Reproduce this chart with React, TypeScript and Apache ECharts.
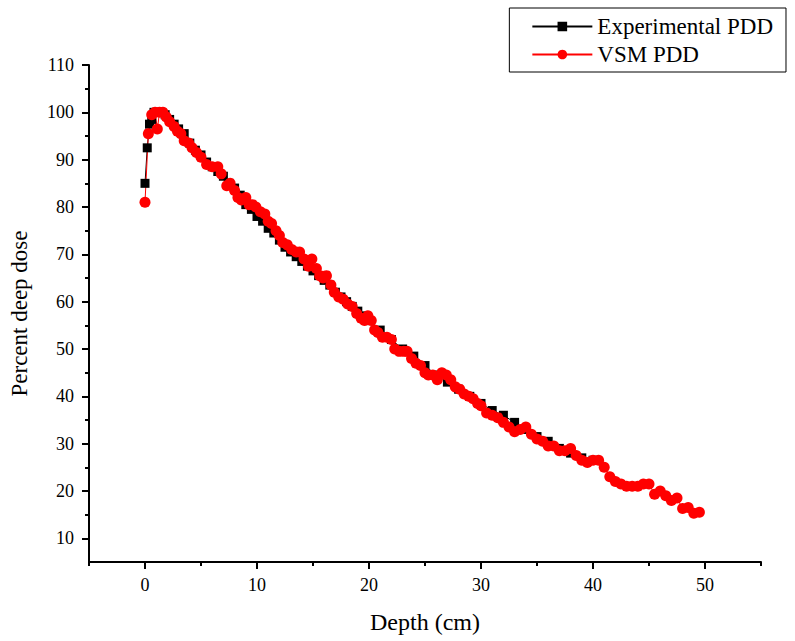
import React, { useEffect, useRef } from "react";
import * as echarts from "echarts";

const expDepth = [0, 0.2, 0.4, 0.6, 0.8, 1.0, 1.4, 1.8, 2.2, 2.6, 3.0, 3.5, 4.0, 4.5, 5.0, 5.5, 6.0, 6.5, 7.0, 7.5, 8.0, 8.5, 9.0, 9.5, 10.0, 10.5, 11.0, 11.5, 12.0, 12.5, 13.0, 13.5, 14.0, 14.5, 15.0, 15.5, 16.0, 16.5, 17.0, 17.5, 18.0, 18.5, 19.0, 19.5, 20.0, 21.0, 22.0, 23.0, 24.0, 25.0, 26.0, 27.0, 28.0, 29.0, 30.0, 31.0, 32.0, 33.0, 34.0, 35.0, 36.0, 37.0, 38.0, 39.0, 40.0];
const expDose = [85, 92.5, 97.5, 98.5, 100, 100, 100, 99.5, 98.5, 97.5, 96.5, 95.5, 93.5, 92, 91, 89.5, 88.5, 87.5, 86.5, 85, 84, 82.5, 80.5, 79.5, 78, 77, 75.5, 74.5, 73, 71.5, 70.5, 69.5, 68.5, 67.5, 66.5, 65.5, 64.5, 63.5, 62, 61, 60, 59, 58, 57, 56, 54, 52, 50, 48.5, 46.5, 44.5, 43, 41.5, 40, 38.5, 37, 36, 34.5, 33, 31.5, 30.5, 29, 28, 27, 26.5];

const vsmDepth = [0, 0.3, 0.6, 0.9, 1.1, 1.3, 1.6, 1.9, 2.2, 2.6, 2.9, 3.2, 3.5, 3.9, 4.2, 4.6, 5.0, 5.5, 6.0, 6.5, 6.8, 7.3, 7.6, 8.0, 8.3, 8.6, 9.0, 9.3, 9.6, 9.9, 10.3, 10.7, 11.0, 11.3, 11.7, 12.0, 12.3, 12.7, 13.1, 13.5, 13.8, 14.2, 14.6, 14.9, 15.3, 15.6, 15.9, 16.2, 16.6, 16.9, 17.3, 17.7, 18.1, 18.5, 18.9, 19.3, 19.6, 19.9, 20.2, 20.5, 20.8, 21.2, 21.6, 22.0, 22.3, 22.7, 23.1, 23.4, 23.8, 24.2, 24.6, 25.0, 25.3, 25.7, 26.1, 26.5, 26.9, 27.3, 27.7, 28.1, 28.5, 28.9, 29.3, 29.7, 30.0, 30.5, 31.0, 31.5, 32.0, 32.5, 33.0, 33.5, 34.0, 34.5, 35.0, 35.5, 36.0, 36.5, 37.0, 37.5, 38.0, 38.5, 39.0, 39.5, 40.0, 40.5, 41.0, 41.5, 42.0, 42.5, 43.0, 43.5, 44.0, 44.5, 45.0, 45.5, 46.0, 46.5, 47.0, 47.5, 48.0, 48.5, 49.0, 49.5];
const vsmDose = [81, 95.5, 99.5, 100, 96.5, 100, 100, 99, 98, 97, 96, 95.5, 94, 93.5, 92.5, 91.5, 90.5, 89, 88.5, 88.5, 87, 84.5, 85, 83.5, 82, 81.5, 82, 80.5, 80.5, 80, 79, 78.5, 77, 76.5, 75, 74, 72.5, 72, 71, 70.5, 70.5, 69, 67.5, 69, 67, 65.5, 65, 65.5, 63.5, 62, 61, 60.5, 59.5, 59, 57.5, 56.5, 56, 57, 56, 54, 53.5, 52.5, 52.5, 52, 50, 49.5, 49.5, 49.5, 48, 47, 46.5, 45, 44.5, 44.5, 43.5, 45, 44.5, 43.5, 42, 41.5, 40.5, 40, 39.5, 38.5, 38, 36.5, 36, 35.5, 34.5, 33.5, 32.5, 33, 33.5, 32, 31, 30.5, 29.5, 29.5, 28.5, 28.5, 29, 27.5, 26.5, 26, 26.5, 26.5, 25, 23, 22, 21.5, 21, 21, 21, 21.5, 21.5, 19.3, 20, 19, 18, 18.5, 16.3, 16.5, 15.3, 15.5];

const xMajor = [0, 10, 20, 30, 40, 50];
const xMinor = [-5, 5, 15, 25, 35, 45, 55];
const yMajor = [10, 20, 30, 40, 50, 60, 70, 80, 90, 100, 110];
const yMinor = [15, 25, 35, 45, 55, 65, 75, 85, 95, 105];

const FONT = "Liberation Serif";

export default function App() {
  const ref = useRef<HTMLDivElement>(null);
  useEffect(() => {
    if (!ref.current) return;
    const chart = echarts.init(ref.current, null, { renderer: "svg" });
    const expData = expDepth.map((d, i) => [d, expDose[i]]);
    const vsmData = vsmDepth.map((d, i) => [d, vsmDose[i]]);
    const axisBase = {
      type: "value" as const,
      splitLine: { show: false },
    };
    chart.setOption({
      animation: false,
      backgroundColor: "#fff",
      textStyle: { fontFamily: FONT },
      grid: { left: 89, right: 34, top: 65, bottom: 79, outerBoundsMode: "none" },
      legend: {
        orient: "vertical",
        right: 9,
        top: 8,
        borderColor: "#000",
        borderWidth: 1,
        padding: [7, 13, 6, 22],
        itemWidth: 60,
        itemHeight: 12,
        itemGap: 5,
        textStyle: { fontFamily: FONT, fontSize: 23, color: "#000" },
        data: ["Experimental PDD", "VSM PDD"],
      },
      xAxis: [
        {
          ...axisBase,
          min: -5,
          max: 55,
          interval: 5,
          name: "Depth (cm)",
          nameLocation: "middle",
          nameGap: 48,
          nameTextStyle: { fontFamily: FONT, fontSize: 24, color: "#000" },
          axisLine: { show: true, onZero: false, lineStyle: { color: "#000", width: 2 } },
          axisTick: { show: true, customValues: xMajor, length: 7, lineStyle: { color: "#000", width: 2 } },
          axisLabel: { customValues: xMajor, fontFamily: FONT, fontSize: 18, color: "#000", margin: 14 },
        },
        {
          ...axisBase,
          min: -5,
          max: 55,
          interval: 5,
          position: "bottom",
          axisLine: { show: false, onZero: false },
          axisTick: { show: true, customValues: xMinor, length: 4, lineStyle: { color: "#000", width: 2 } },
          axisLabel: { show: false },
        },
      ],
      yAxis: [
        {
          ...axisBase,
          min: 5,
          max: 110,
          interval: 5,
          name: "Percent deep dose",
          nameLocation: "middle",
          nameGap: 58,
          nameTextStyle: { fontFamily: FONT, fontSize: 23, color: "#000" },
          axisLine: { show: true, onZero: false, lineStyle: { color: "#000", width: 2 } },
          axisTick: { show: true, customValues: yMajor, length: 7, lineStyle: { color: "#000", width: 2 } },
          axisLabel: { customValues: yMajor, fontFamily: FONT, fontSize: 18, color: "#000", margin: 15 },
        },
        {
          ...axisBase,
          min: 5,
          max: 110,
          interval: 5,
          position: "left",
          axisLine: { show: false, onZero: false },
          axisTick: { show: true, customValues: yMinor, length: 4, lineStyle: { color: "#000", width: 2 } },
          axisLabel: { show: false },
        },
      ],
      series: [
        {
          name: "Experimental PDD",
          type: "line",
          xAxisIndex: 0,
          yAxisIndex: 0,
          data: expData,
          symbol: "rect",
          symbolSize: 9,
          itemStyle: { color: "#000" },
          lineStyle: { color: "#000", width: 1 },
        },
        {
          name: "VSM PDD",
          type: "line",
          xAxisIndex: 0,
          yAxisIndex: 0,
          data: vsmData,
          symbol: "circle",
          symbolSize: 11,
          itemStyle: { color: "#ff0000" },
          lineStyle: { color: "#ff0000", width: 1 },
        },
      ],
    });
    return () => chart.dispose();
  }, []);
  return (
    <div
      ref={ref}
      style={{ position: "fixed", left: 0, top: 0, width: 795, height: 641, background: "#fff" }}
    />
  );
}
